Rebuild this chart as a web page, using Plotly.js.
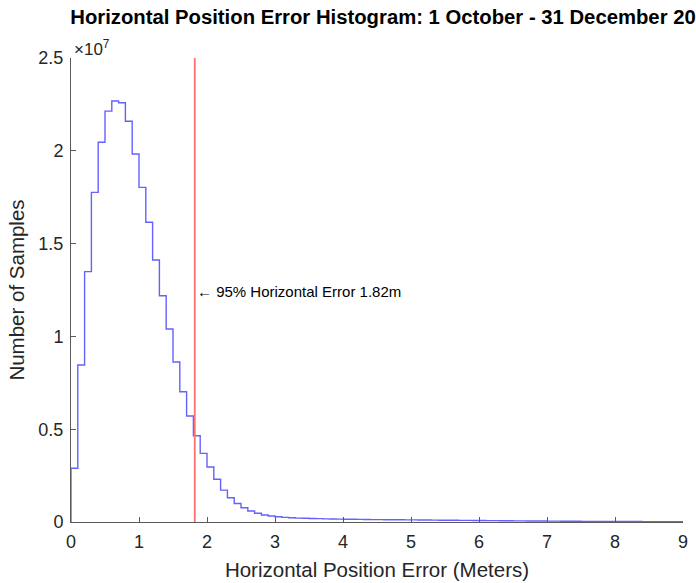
<!DOCTYPE html>
<html>
<head>
<meta charset="utf-8">
<script src="https://cdn.plot.ly/plotly-3.0.1.min.js"></script>
<style>html,body{margin:0;padding:0;background:#fff;}#chart{width:696px;height:583px;}</style>
</head>
<body>
<div id="chart"></div>
<script>
// Histogram bin width (meters) and counts per bin (millions of samples), bins start at 0
const binWidth = 0.1;
const countsMillions = [
  2.90, 8.46, 13.49, 17.76, 20.46, 22.14, 22.68, 22.59, 21.59, 19.83,
  18.03, 16.15, 14.12, 12.19, 10.40, 8.62, 7.02, 5.71, 4.65, 3.70,
  2.96, 2.30, 1.72, 1.31, 1.00, 0.77, 0.59, 0.47, 0.38, 0.32,
  0.28, 0.25, 0.23, 0.21, 0.20, 0.19, 0.18, 0.17, 0.16, 0.155,
  0.150, 0.145, 0.140, 0.135, 0.130, 0.128, 0.125, 0.120, 0.118, 0.115,
  0.112, 0.110, 0.105, 0.100, 0.098, 0.095, 0.092, 0.090, 0.086, 0.082,
  0.078, 0.075, 0.072, 0.070, 0.066, 0.063, 0.060, 0.057, 0.054, 0.050,
  0.047, 0.045, 0.042, 0.040, 0.038, 0.036, 0.034, 0.032, 0.030, 0.028,
  0.026, 0.025, 0.024, 0.023, 0.022, 0.021, 0.020, 0.019, 0.018, 0.017
];
const error95 = 1.82;
const annotationY = 12.4e6;
const xTicks = [0,1,2,3,4,5,6,7,8,9];
const yTickVals = [0, 0.5e7, 1e7, 1.5e7, 2e7, 2.5e7];
const yTickText = ['0','0.5','1','1.5','2','2.5'];

// Build stairs outline: start at zero on the left edge, then each bin's left edge, then final right edge
const xs = [0];
const ys = [0];
countsMillions.forEach((c, i) => { xs.push(+(i * binWidth).toFixed(2)); ys.push(c * 1e6); });
xs.push(+(countsMillions.length * binWidth).toFixed(2));
ys.push(countsMillions[countsMillions.length - 1] * 1e6);

const font = 'Liberation Sans, Arial, Helvetica, sans-serif';
const textColor = '#262626';
const axisColor = '#5a5a5a';

const traces = [
  {
    x: xs, y: ys, type: 'scatter', mode: 'lines',
    line: {shape: 'hv', color: 'rgba(70,70,255,0.85)', width: 1.4},
    hoverinfo: 'skip', showlegend: false
  },
  {
    x: [error95, error95], y: [0, 2.5e7], type: 'scatter', mode: 'lines',
    line: {color: '#ff7070', width: 1.8},
    hoverinfo: 'skip', showlegend: false
  }
];

const layout = {
  width: 696, height: 583,
  margin: {l: 71, r: 13, t: 58, b: 61},
  paper_bgcolor: '#fff', plot_bgcolor: '#fff',
  font: {family: font, color: textColor, size: 18},
  title: {
    text: '<b>Horizontal Position Error Histogram: 1 October - 31 December 20</b>',
    font: {family: font, size: 20.3, color: '#000'},
    xref: 'container', x: 383 / 696, xanchor: 'center',
    yref: 'container', y: 1 - 17/583, yanchor: 'middle'
  },
  xaxis: {
    range: [0, 9], tickvals: xTicks, ticktext: xTicks.map(String),
    showline: true, linecolor: axisColor, linewidth: 1,
    ticks: 'inside', ticklen: 5, tickcolor: axisColor, tickwidth: 1,
    showgrid: false, zeroline: false, mirror: false,
    tickfont: {size: 18, color: textColor}, ticklabelstandoff: 3,
    title: {text: 'Horizontal Position Error (Meters)', font: {size: 20.5, color: textColor}, standoff: 12}
  },
  yaxis: {
    range: [0, 2.5e7], tickvals: yTickVals, ticktext: yTickText,
    showline: true, linecolor: axisColor, linewidth: 1,
    ticks: 'inside', ticklen: 5, tickcolor: axisColor, tickwidth: 1,
    showgrid: false, zeroline: false, mirror: false,
    tickfont: {size: 18, color: textColor}, ticklabelstandoff: 3,
    title: {text: 'Number of Samples', font: {size: 20.5, color: textColor}, standoff: 8}
  },
  annotations: [
    {
      xref: 'paper', yref: 'paper', x: 0, y: 1, xanchor: 'left', yanchor: 'bottom',
      xshift: 1, yshift: -3,
      text: '×10<sup>7</sup>', showarrow: false, font: {size: 17, color: textColor}
    },
    {
      xref: 'x', yref: 'y', x: error95, y: annotationY, xanchor: 'left', yanchor: 'middle',
      xshift: 0,
      text: '\u2190 95% Horizontal Error 1.82m', showarrow: false, font: {size: 15, color: '#000'}
    }
  ]
};

Plotly.newPlot('chart', traces, layout, {displayModeBar: false, staticPlot: true});
</script>
</body>
</html>
